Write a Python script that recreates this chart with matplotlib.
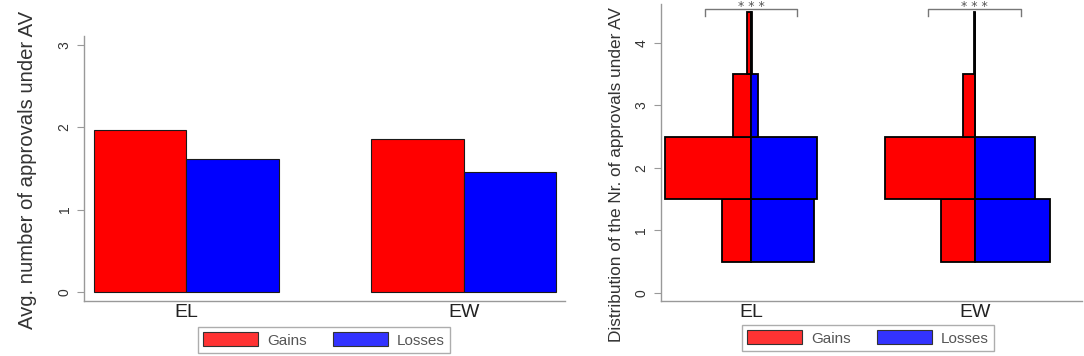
import matplotlib
matplotlib.use("Agg")
import matplotlib.pyplot as plt
from matplotlib.patches import Patch
import numpy as np

plt.rcParams["font.family"] = ["Liberation Sans", "DejaVu Sans"]

categories = ["EL", "EW"]
series = ["Gains", "Losses"]

# left panel: average number of approvals
avg_gains = [1.97, 1.86]
avg_losses = [1.62, 1.46]

# right panel: share of voters approving k candidates
bins = [1, 2, 3, 4]
dist_gains = {"EL": [0.21, 0.63, 0.135, 0.03], "EW": [0.245, 0.66, 0.085, 0.004]}
dist_losses = {"EL": [0.46, 0.48, 0.048, 0.008], "EW": [0.55, 0.44, 0.004, 0.003]}
signif = ["* * *", "* * *"]

RED, BLUE = "#ff0000", "#0000ff"
LRED, LBLUE = "#ff3333", "#3333ff"
GRAY = "#999999"


def style_axes(ax):
    for side in ["top", "right"]:
        ax.spines[side].set_visible(False)
    for side in ["left", "bottom"]:
        ax.spines[side].set_color(GRAY)
        ax.spines[side].set_linewidth(1.0)
    ax.tick_params(axis="y", colors=GRAY, labelcolor="#333333", length=5,
                   labelsize=10, labelrotation=90, pad=4)
    ax.tick_params(axis="x", length=0, labelsize=14, labelcolor="#222222", pad=2)
    for lab in ax.get_yticklabels():
        lab.set_verticalalignment("center")


def add_legend(ax, anchor):
    handles = [Patch(facecolor=LRED, edgecolor="#333333", lw=0.8),
               Patch(facecolor=LBLUE, edgecolor="#333333", lw=0.8)]
    leg = ax.legend(handles, series, ncol=2, loc="center",
                    bbox_to_anchor=anchor, bbox_transform=ax.figure.transFigure,
                    frameon=True, fancybox=False, handlelength=3.6,
                    handleheight=1.0, columnspacing=1.7, handletextpad=0.6,
                    borderpad=0.35, fontsize=11)
    leg.get_frame().set_edgecolor(GRAY)
    leg.get_frame().set_linewidth(1.0)
    for t in leg.get_texts():
        t.set_color("#555555")


fig = plt.figure(figsize=(10.84, 3.56), dpi=100)

# ---- left panel ----
ax1 = fig.add_axes([84 / 1084, 1 - 301 / 356, 481 / 1084, 265 / 356])
x = np.arange(1, len(categories) + 1)
w = 0.333
ax1.bar(x - w / 2, avg_gains, w, color=RED, edgecolor="#1a1a1a", lw=0.8)
ax1.bar(x + w / 2, avg_losses, w, color=BLUE, edgecolor="#1a1a1a", lw=0.8)
ax1.set_xlim(0.631, 2.365)
ax1.set_ylim(-0.11, 3.11)
ax1.set_yticks([0, 1, 2, 3])
ax1.set_xticks(x)
ax1.set_xticklabels(categories)
ax1.set_ylabel("Avg. number of approvals under AV", fontsize=14.6, color="#333333")
ax1.yaxis.set_label_coords(-0.098, (301 - 170) / 265)
style_axes(ax1)
add_legend(ax1, (324 / 1084, 1 - 340 / 356))

# ---- right panel ----
ax2 = fig.add_axes([661 / 1084, 1 - 301 / 356, 421 / 1084, 297 / 356])
scale = 0.61
for i, cat in enumerate(categories):
    c = i + 1
    g = np.array(dist_gains[cat]) * scale
    l = np.array(dist_losses[cat]) * scale
    ax2.barh(bins, g, height=1.0, left=c - g, color=RED, edgecolor="black", lw=1.3)
    ax2.barh(bins, l, height=1.0, left=c, color=BLUE, edgecolor="black", lw=1.3)
    # significance bracket
    ax2.plot([c - 0.207, c - 0.207, c + 0.207, c + 0.207], [4.43, 4.54, 4.54, 4.43],
             color="#777777", lw=1.0, clip_on=False)
    ax2.text(c, 4.52, signif[i], ha="center", va="baseline", fontsize=9,
             family="DejaVu Sans", color="#555555", clip_on=False)
ax2.set_xlim(0.597, 2.48)
ax2.set_ylim(-0.13, 4.62)
ax2.set_yticks([0, 1, 2, 3, 4])
ax2.set_xticks(x)
ax2.set_xticklabels(categories)
ax2.set_ylabel("Distribution of the Nr. of approvals under AV", fontsize=12.4,
               color="#333333")
ax2.yaxis.set_label_coords(-0.088, (301 - 175) / 297)
style_axes(ax2)
add_legend(ax2, (868 / 1084, 1 - 338 / 356))

fig.savefig("out.png", dpi=100)
